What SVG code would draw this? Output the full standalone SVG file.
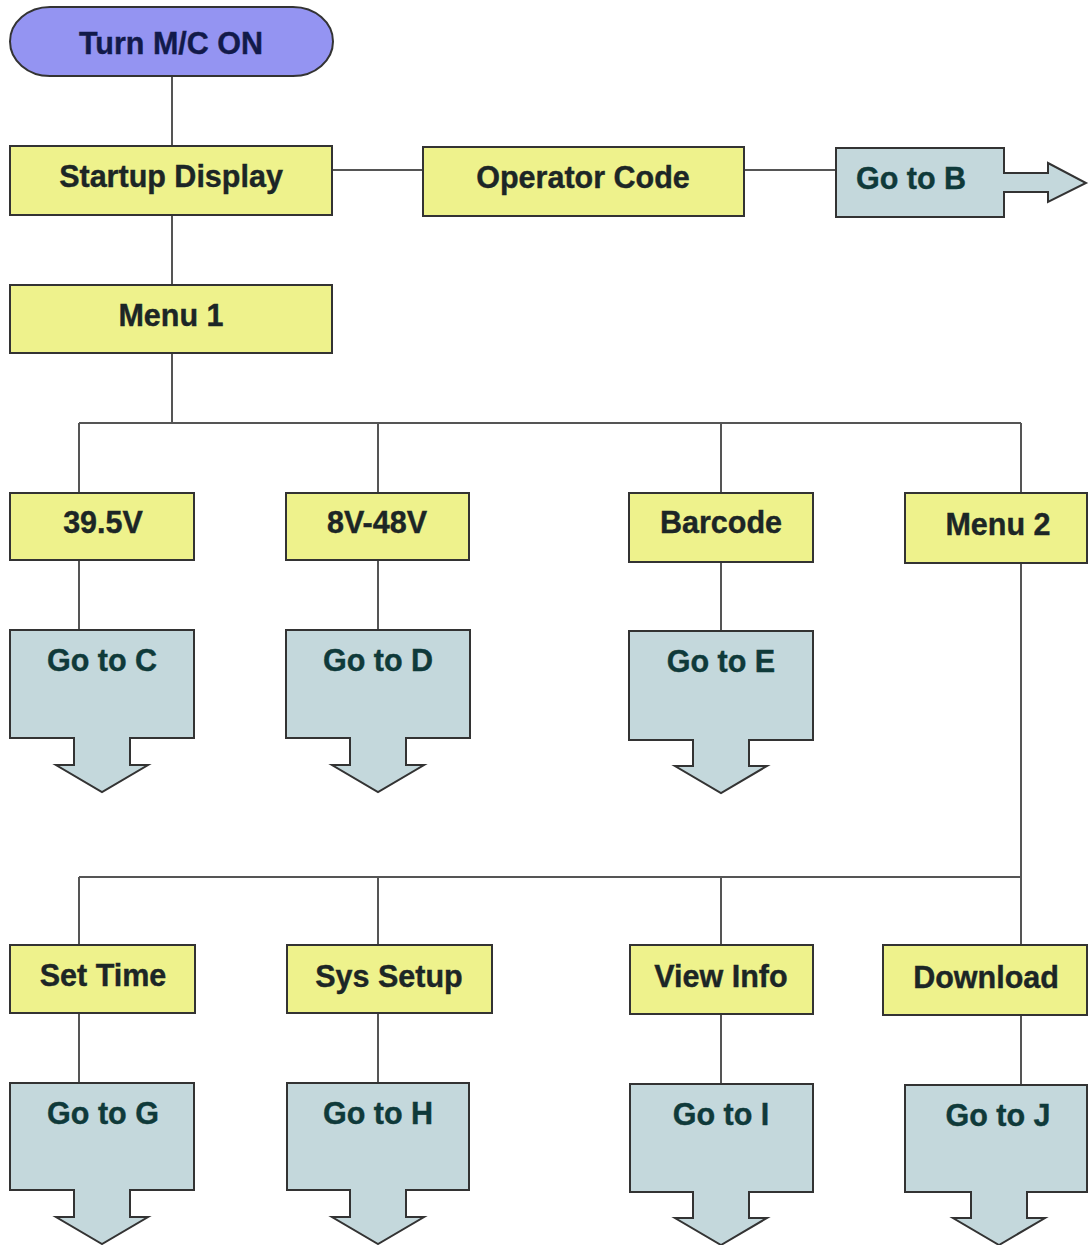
<svg xmlns="http://www.w3.org/2000/svg" width="1089" height="1245" viewBox="0 0 1089 1245">
<style>
.bg{fill:#ffffff}
.box{fill:#eef28c;stroke:#333;stroke-width:2}
.go{fill:#c4d8dc;stroke:#333;stroke-width:2;stroke-linejoin:miter}
.start{fill:#9494f2;stroke:#333;stroke-width:2}
.t{font-family:"Liberation Sans",Arial,sans-serif;font-weight:bold;font-size:30.5px;text-anchor:middle;fill:#1c2626;stroke:#1c2626;stroke-width:0.4}
.tg{fill:#0f3a3a;stroke:#0f3a3a}
.ts{fill:#121a4a;stroke:#121a4a}
.c{stroke:#555;stroke-width:2;fill:none}
</style>
<rect class="bg" x="0" y="0" width="1089" height="1245"/>
<g id="connectors">
<path class="c" d="M172,76 V146 M332,170 H423 M744,170 H836 M172,215 V285 M172,353 V423 M79,423 H1021 M79,423 V493 M378,423 V493 M721,423 V493 M1021,423 V493 M79,560 V630 M378,560 V630 M721,562 V631 M1021,563 V945 M79,877 H1021 M79,877 V945 M378,877 V945 M721,877 V945 M79,1013 V1083 M378,1013 V1083 M721,1014 V1084 M1021,1015 V1085"/>
</g>
<g id="turn-on"><rect class="start" x="10" y="7" width="323" height="69" rx="40" ry="34.5"/><text class="t ts" x="171" y="54">Turn M/C ON</text></g>
<g id="startup"><rect class="box" x="10" y="146" width="322" height="69"/><text class="t" x="171" y="187">Startup Display</text></g>
<g id="operator"><rect class="box" x="423" y="147" width="321" height="69"/><text class="t" x="583" y="188">Operator Code</text></g>
<g id="goto-b"><path class="go" d="M836,148 H1004 V173 H1048 V163 L1086,183 L1048,202 V192 H1004 V217 H836 Z"/><text class="t tg" x="911" y="189">Go to B</text></g>
<g id="menu1"><rect class="box" x="10" y="285" width="322" height="68"/><text class="t" x="171" y="326">Menu 1</text></g>
<g id="v395"><rect class="box" x="10" y="493" width="184" height="67"/><text class="t" x="103" y="533">39.5V</text></g>
<g id="v848"><rect class="box" x="286" y="493" width="183" height="67"/><text class="t" x="377" y="533">8V-48V</text></g>
<g id="barcode"><rect class="box" x="629" y="493" width="184" height="69"/><text class="t" x="721" y="533">Barcode</text></g>
<g id="menu2"><rect class="box" x="905" y="493" width="182" height="70"/><text class="t" x="998" y="535">Menu 2</text></g>
<g id="goto-c"><path class="go" d="M10,630 H194 V738 H130 V765 H148 L102,792 L56,765 H74 V738 H10 Z"/><text class="t tg" x="102" y="671">Go to C</text></g>
<g id="goto-d"><path class="go" d="M286,630 H470 V738 H406 V765 H424 L378,792 L332,765 H350 V738 H286 Z"/><text class="t tg" x="378" y="671">Go to D</text></g>
<g id="goto-e"><path class="go" d="M629,631 H813 V740 H749 V766 H767 L721,793 L675,766 H693 V740 H629 Z"/><text class="t tg" x="721" y="672">Go to E</text></g>
<g id="settime"><rect class="box" x="10" y="945" width="185" height="68"/><text class="t" x="103" y="986">Set Time</text></g>
<g id="syssetup"><rect class="box" x="287" y="945" width="205" height="68"/><text class="t" x="389" y="987">Sys Setup</text></g>
<g id="viewinfo"><rect class="box" x="630" y="945" width="183" height="69"/><text class="t" x="721" y="987">View Info</text></g>
<g id="download"><rect class="box" x="883" y="945" width="204" height="70"/><text class="t" x="986" y="988">Download</text></g>
<g id="goto-g"><path class="go" d="M10,1083 H194 V1190 H130 V1217 H148 L102,1244 L56,1217 H74 V1190 H10 Z"/><text class="t tg" x="103" y="1124">Go to G</text></g>
<g id="goto-h"><path class="go" d="M287,1083 H469 V1190 H406 V1217 H424 L378,1244 L332,1217 H350 V1190 H287 Z"/><text class="t tg" x="378" y="1124">Go to H</text></g>
<g id="goto-i"><path class="go" d="M630,1084 H813 V1192 H749 V1218 H767 L721,1245 L675,1218 H693 V1192 H630 Z"/><text class="t tg" x="721" y="1125">Go to I</text></g>
<g id="goto-j"><path class="go" d="M905,1085 H1087 V1192 H1027 V1218 H1045 L999,1245 L953,1218 H971 V1192 H905 Z"/><text class="t tg" x="998" y="1126">Go to J</text></g>
</svg>
